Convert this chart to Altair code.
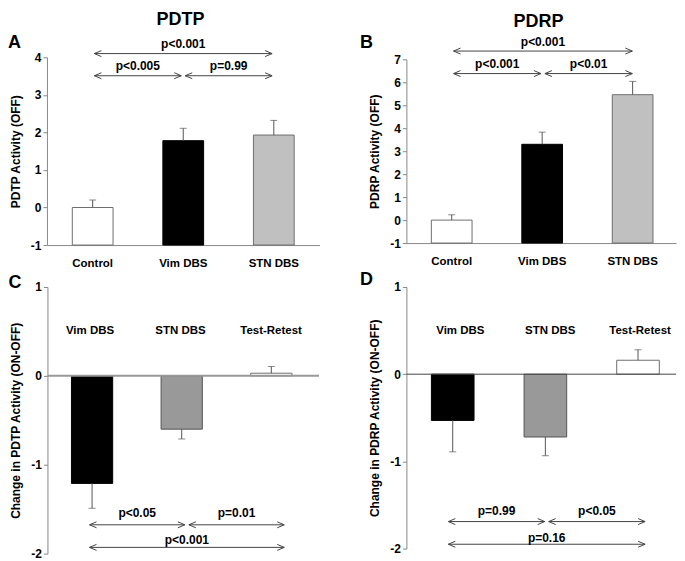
import altair as alt
import pandas as pd

FONT = "Liberation Sans"

# ---------------- data ----------------
top_cats = ["Control", "Vim DBS", "STN DBS"]
top_fills = ["#ffffff", "#000000", "#c0c0c0"]
top_strokes = ["#6e6e6e", "#000000", "#6e6e6e"]
pdtp_mean = [0.0, 1.78, 1.93]
pdtp_err = [0.20, 0.33, 0.39]
pdrp_mean = [0.0, 3.30, 5.46]
pdrp_err = [0.23, 0.53, 0.58]

bot_cats = ["Vim DBS", "STN DBS", "Test-Retest"]
bot_fills = ["#000000", "#999999", "#ffffff"]
bot_strokes = ["#000000", "#555555", "#6e6e6e"]
dpdtp_mean = [-1.21, -0.60, 0.03]
dpdtp_err = [0.28, 0.11, 0.075]
dpdrp_mean = [-0.53, -0.72, 0.16]
dpdrp_err = [0.36, 0.215, 0.12]

# comparisons (index of first group, index of second group)
top_cmp_from = [0, 0, 1]
top_cmp_to = [2, 1, 2]
pdtp_p = ["p<0.001", "p<0.005", "p=0.99"]
pdtp_arrow_y = [4.10, 3.51, 3.51]
pdtp_label_y = [4.36, 3.76, 3.76]
pdrp_p = ["p<0.001", "p<0.001", "p<0.01"]
pdrp_arrow_y = [7.36, 6.38, 6.38]
pdrp_label_y = [7.77, 6.80, 6.80]

bot_cmp_from = [0, 1, 0]
bot_cmp_to = [1, 2, 2]
dpdtp_p = ["p<0.05", "p=0.01", "p<0.001"]
dpdtp_arrow_y = [-1.676, -1.676, -1.93]
dpdtp_label_y = [-1.54, -1.54, -1.85]
dpdrp_p = ["p=0.99", "p<0.05", "p=0.16"]
dpdrp_arrow_y = [-1.69, -1.69, -1.95]
dpdrp_label_y = [-1.57, -1.57, -1.88]

LEFT_CHEVRON = "M2.8,-1.2L0,0L2.8,1.2"
RIGHT_CHEVRON = "M-2.8,-1.2L0,0L-2.8,1.2"


def panel(cats, fills, strokes, means, errs, frm, to, ptxt, ay, ly,
          ydom, yvals, ytitle, w, h, bar_sc, ann_sc, letter, letter_pos,
          letter_align, baseline, title=None, bottom_axis=True,
          zero_style=None, cat_label_y=None):
    bars_df = pd.DataFrame({
        "cat": cats, "mean": means,
        "tip": [m + (e if m >= 0 else -e) for m, e in zip(means, errs)],
        "fill": fills, "stroke": strokes,
        "lab_y": [cat_label_y if cat_label_y is not None else 0] * len(cats),
    })

    def xs():
        return alt.Scale(domain=cats, paddingInner=bar_sc[0],
                         paddingOuter=bar_sc[1], align=bar_sc[2])

    def anns():
        return alt.Scale(type="point", domain=cats, padding=ann_sc[0],
                         align=ann_sc[1])

    yscale = alt.Scale(domain=ydom, nice=False, zero=False)

    def yax():
        return alt.Axis(values=yvals, labelExpr="'' + datum.value",
                        domainColor="#888888", tickColor="#888888",
                        tickSize=4, labelFont=FONT, labelFontSize=12,
                        labelFontWeight="bold", labelColor="black",
                        labelPadding=2, labelFlush=False, title=ytitle,
                        titleFont=FONT, titleFontSize=12,
                        titleFontWeight="bold", titleColor="black",
                        titlePadding=8, grid=False, orient="left")

    if bottom_axis:
        xaxis = alt.Axis(domainColor="#888888", ticks=False, labelPadding=12,
                         labelFont=FONT, labelFontSize=11.5,
                         labelFontWeight="bold", labelColor="black",
                         labelAngle=0, title=None, grid=False)
    else:
        xaxis = None

    base = alt.Chart(bars_df)
    bars = base.mark_bar(strokeWidth=1).encode(
        x=alt.X("cat:N", scale=xs(), axis=xaxis, title=None),
        y=alt.Y("mean:Q", scale=yscale, axis=yax()),
        y2=alt.datum(baseline),
        fill=alt.Fill("fill:N", scale=None),
        stroke=alt.Stroke("stroke:N", scale=None),
    )
    err = base.mark_rule(color="#555555", strokeWidth=1).encode(
        x=alt.X("cat:N", scale=xs(), axis=None),
        y=alt.Y("mean:Q", axis=yax()),
        y2="tip:Q",
    )
    cap = base.mark_tick(color="#555555", thickness=1, size=7).encode(
        x=alt.X("cat:N", scale=xs(), axis=None),
        y=alt.Y("tip:Q", axis=yax()),
    )
    layers = [bars, err, cap]
    if zero_style is not None:
        zdf = pd.DataFrame({"z": [0.0]})
        zero = alt.Chart(zdf).mark_rule(color=zero_style[0],
                                        strokeWidth=zero_style[1]).encode(
            y=alt.Y("z:Q", axis=yax()), x=alt.value(0), x2=alt.value(w))
        layers.append(zero)
    if cat_label_y is not None:
        lab = base.mark_text(font=FONT, fontSize=11.5, fontWeight="bold",
                             color="black", baseline="middle").encode(
            x=alt.X("cat:N", scale=xs(), axis=None),
            y=alt.Y("lab_y:Q", axis=yax()),
            text="cat:N",
        )
        layers.append(lab)
    let = alt.Chart(pd.DataFrame({"t": [letter]})).mark_text(
        font=FONT, fontSize=18, fontWeight="bold", color="black",
        align=letter_align, baseline="middle").encode(
        x=alt.value(letter_pos[0]), y=alt.value(letter_pos[1]), text="t:N")
    layers.append(let)
    if title is not None:
        tt = alt.Chart(pd.DataFrame({"t": [title]})).mark_text(
            font=FONT, fontSize=18, fontWeight="bold", color="black",
            align="center", baseline="middle").encode(
            x=alt.value(w * 0.49), y=alt.value(-37), text="t:N")
        layers.append(tt)

    ann_df = pd.DataFrame({
        "from_cat": [cats[i] for i in frm],
        "to_cat": [cats[j] for j in to],
        "mid_cat": [cats[(i + j) // 2] for i, j in zip(frm, to)],
        "span": [j - i for i, j in zip(frm, to)],
        "ay": ay, "ly": ly, "p": ptxt,
    })
    ann_step = w / (2 + 2 * ann_sc[0])
    ann = alt.Chart(ann_df)
    rules = ann.mark_rule(color="#444444", strokeWidth=1, xOffset=2,
                          x2Offset=-2).encode(
        x=alt.X("from_cat:N", scale=anns(), axis=None),
        x2="to_cat:N",
        y=alt.Y("ay:Q", axis=yax()),
    )
    lchev = ann.mark_point(shape=LEFT_CHEVRON, size=25, filled=False,
                           color="#444444", strokeWidth=1, xOffset=2,
                           opacity=1).encode(
        x=alt.X("from_cat:N", scale=anns(), axis=None),
        y=alt.Y("ay:Q", axis=yax()),
    )
    rchev = ann.mark_point(shape=RIGHT_CHEVRON, size=25, filled=False,
                           color="#444444", strokeWidth=1, xOffset=-2,
                           opacity=1).encode(
        x=alt.X("to_cat:N", scale=anns(), axis=None),
        y=alt.Y("ay:Q", axis=yax()),
    )
    txt_span = ann.transform_filter("datum.span == 2").mark_text(
        font=FONT, fontSize=12, fontWeight="bold", color="black",
        baseline="middle").encode(
        x=alt.X("mid_cat:N", scale=anns(), axis=None),
        y=alt.Y("ly:Q", axis=yax()), text="p:N")
    txt_adj = ann.transform_filter("datum.span == 1").mark_text(
        font=FONT, fontSize=12, fontWeight="bold", color="black",
        baseline="middle", dx=ann_step / 2).encode(
        x=alt.X("from_cat:N", scale=anns(), axis=None),
        y=alt.Y("ly:Q", axis=yax()), text="p:N")
    layers += [rules, lchev, rchev, txt_span, txt_adj]

    return alt.layer(*layers).resolve_scale(
        x="independent").properties(width=w, height=h)


pA = panel(top_cats, top_fills, top_strokes, pdtp_mean, pdtp_err,
           top_cmp_from, top_cmp_to, pdtp_p, pdtp_arrow_y, pdtp_label_y,
           [-1, 4], [-1, 0, 1, 2, 3, 4], "PDTP Activity (OFF)", 273, 188,
           (0.55, 0.28, 0.5), (0.5, 0.5), "A", (-39, -14), "left", -1,
           title="PDTP")
pB = panel(top_cats, top_fills, top_strokes, pdrp_mean, pdrp_err,
           top_cmp_from, top_cmp_to, pdrp_p, pdrp_arrow_y, pdrp_label_y,
           [-1, 7], [-1, 0, 1, 2, 3, 4, 5, 6, 7], "PDRP Activity (OFF)",
           270, 184, (0.55, 0.265, 0.52), (0.475, 0.52), "B", (-40, -16),
           "center", -1, title="PDRP")
pC = panel(bot_cats, bot_fills, bot_strokes, dpdtp_mean, dpdtp_err,
           bot_cmp_from, bot_cmp_to, dpdtp_p, dpdtp_arrow_y, dpdtp_label_y,
           [-2, 1], [-2, -1, 0, 1], "Change in PDTP Activity (ON-OFF)",
           272, 267, (0.54, 0.285, 0.47), (0.367, 0.55), "C", (-39, -4),
           "left", 0, bottom_axis=False, zero_style=("#999999", 2),
           cat_label_y=0.5)
pD = panel(bot_cats, bot_fills, bot_strokes, dpdrp_mean, dpdrp_err,
           bot_cmp_from, bot_cmp_to, dpdrp_p, dpdrp_arrow_y, dpdrp_label_y,
           [-2, 1], [-2, -1, 0, 1], "Change in PDRP Activity (ON-OFF)",
           270, 262, (0.54, 0.225, 0.6), (0.343, 0.58), "D", (-40, -6.5),
           "center", 0, bottom_axis=False, zero_style=("#444444", 1),
           cat_label_y=0.5)

chart = alt.concat(pA, pB, pC, pD, columns=2,
                   spacing={"row": 42, "column": 87},
                   bounds="flush", center=True).properties(
    padding={"top": 3, "left": 0, "right": 0, "bottom": 0}).configure(
    font=FONT).configure_view(stroke="transparent", strokeWidth=0)

chart.save("out.html", embed_options={"renderer": "svg", "actions": False})
